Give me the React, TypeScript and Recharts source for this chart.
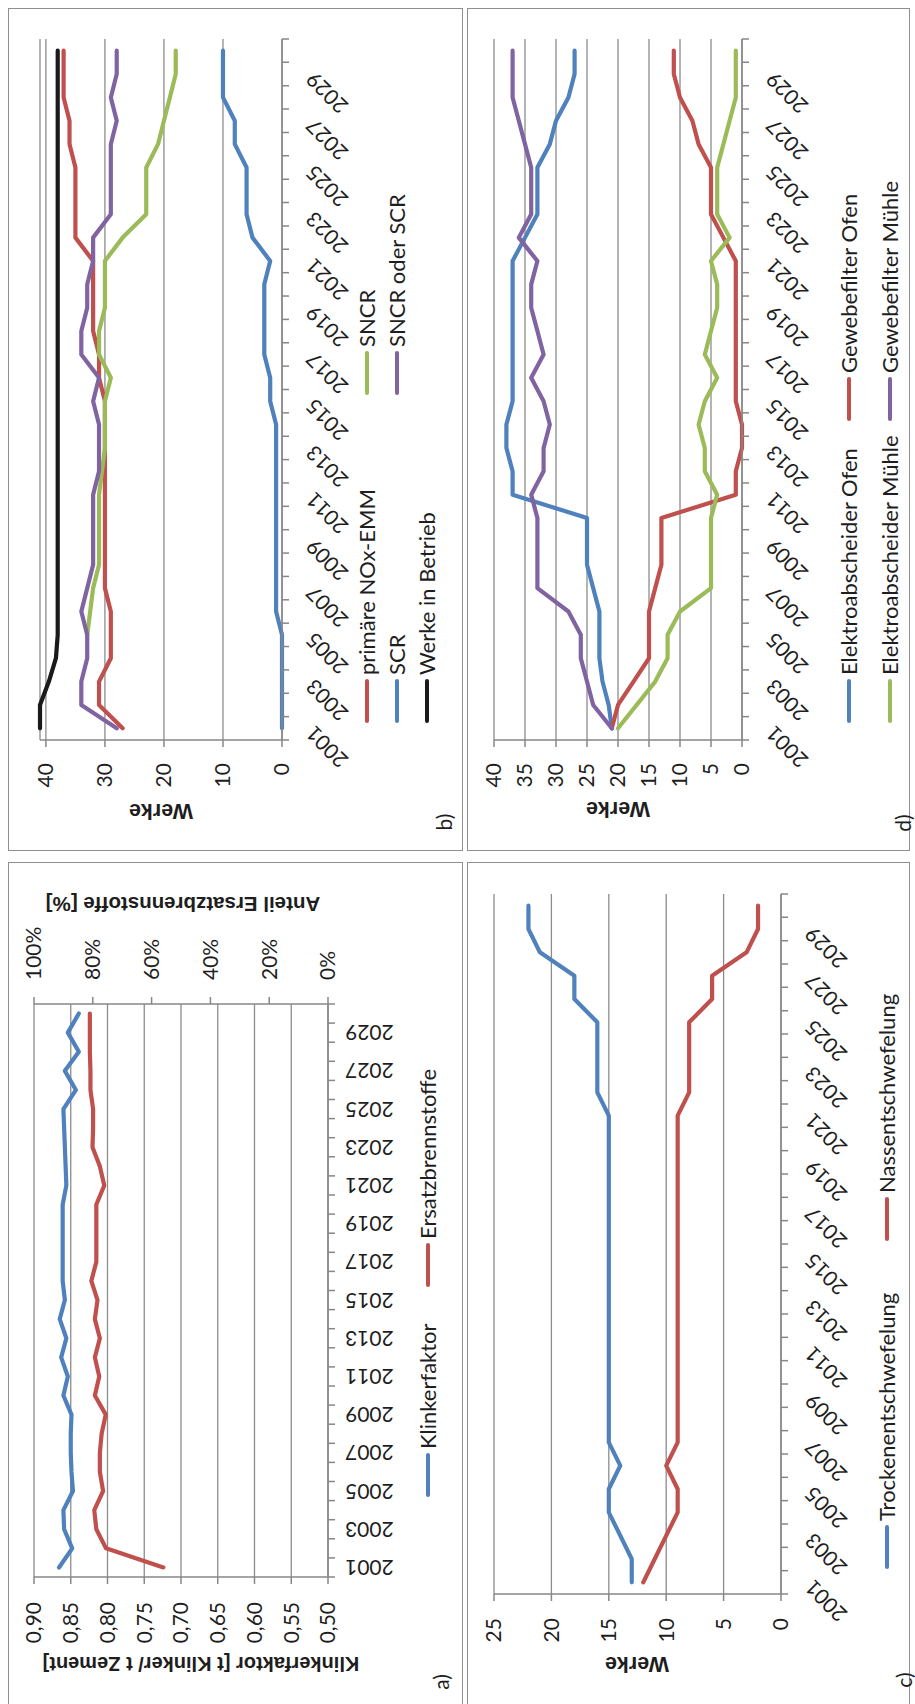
import React from "react";
import { LineChart, Line, XAxis, YAxis, CartesianGrid } from "recharts";

const years = [
  "2001", "2002", "2003", "2004", "2005", "2006", "2007", "2008", "2009", "2010",
  "2011", "2012", "2013", "2014", "2015", "2016", "2017", "2018", "2019", "2020",
  "2021", "2022", "2023", "2024", "2025", "2026", "2027", "2028", "2029", "2030",
];

// a) Klinkerfaktor and share of substitute fuels
const klinkerfaktor = [
  0.866, 0.848, 0.859, 0.86, 0.847, 0.849, 0.85, 0.85, 0.849, 0.86,
  0.854, 0.863, 0.856, 0.865, 0.858, 0.861, 0.861, 0.861, 0.861, 0.861,
  0.856, 0.857, 0.858, 0.859, 0.86, 0.843, 0.858, 0.839, 0.854, 0.839,
];
const ersatzbrennstoffe = [
  56, 75.5, 78.8, 79.5, 76.5, 77.6, 77.6, 77, 75.6, 79.3,
  77.8, 79.3, 77.6, 79.3, 78.4, 80.5, 78.8, 78.8, 78.8, 78.8,
  76.1, 77.6, 80.1, 79.9, 79.9, 80.8, 80.8, 81, 81, 81,
];

// b) NOx reduction
const primaereNOx = [27, 31, 31, 29, 29, 29, 30, 30, 30, 30, 30, 30, 30, 30, 30, 31, 31, 32, 32, 32, 32, 35, 35, 35, 35, 36, 36, 37, 37, 37];
const scr = [0, 0, 0, 0, 0, 1, 1, 1, 1, 1, 1, 1, 1, 1, 2, 2, 3, 3, 3, 3, 2, 5, 6, 6, 6, 8, 8, 10, 10, 10];
const werkeInBetrieb = [41, 41, 39.5, 38.3, 38, 38, 38, 38, 38, 38, 38, 38, 38, 38, 38, 38, 38, 38, 38, 38, 38, 38, 38, 38, 38, 38, 38, 38, 38, 38];
const sncr = [null, null, null, null, 33, 32.5, 32, 31, 31, 31, 31, 30.5, 30, 30, 30, 29, 31, 31, 30, 30, 30, 27, 23, 23, 23, 21, 20, 19, 18, 18];
const sncrOderScr = [28, 34, 34, 33, 33, 34, 33, 32, 32, 32, 32, 31, 31, 31, 32, 31, 34, 34, 33, 33, 32, 32, 29, 29, 29, 29, 28, 29, 28, 28];

// c) desulphurisation
const trocken = [13, 13, 14, 15, 15, 14, 15, 15, 15, 15, 15, 15, 15, 15, 15, 15, 15, 15, 15, 15, 15, 16, 16, 16, 16, 18, 18, 21, 22, 22];
const nass = [12, 11, 10, 9, 9, 10, 9, 9, 9, 9, 9, 9, 9, 9, 9, 9, 9, 9, 9, 9, 9, 8, 8, 8, 8, 6, 6, 3, 2, 2];

// d) dust filters
const elektroOfen = [21, 21.5, 22.5, 23, 23, 23, 24, 25, 25, 25, 37, 37, 38, 38, 37, 37, 37, 37, 37, 37, 37, 35, 33, 33, 33, 31, 30, 28, 27, 27];
const gewebeOfen = [21, 20, 17.5, 15, 15, 15, 14, 13, 13, 13, 1, 1, 0, 0, 1, 1, 1, 1, 1, 1, 1, 3, 5, 5, 5, 7, 8, 10, 11, 11];
const elektroMuehle = [20, 17, 14, 12, 12, 10, 5, 5, 5, 5, 4, 6, 6, 7, 6, 4, 6, 5, 4, 4, 5, 2, 4, 4, 4, 3, 2, 1, 1, 1];
const gewebeMuehle = [21, 24, 25, 26, 26, 28, 33, 33, 33, 33, 34, 32, 32, 31, 32, 34, 32, 33, 34, 34, 33, 36, 34, 34, 34, 35, 36, 37, 37, 37];

const klinkerTicks = [0.5, 0.55, 0.6, 0.65, 0.7, 0.75, 0.8, 0.85, 0.9];
const percentTicks = [0, 20, 40, 60, 80, 100];
const werke40Ticks = [0, 10, 20, 30, 40];
const werke40FineTicks = [0, 5, 10, 15, 20, 25, 30, 35, 40];
const werke25Ticks = [0, 5, 10, 15, 20, 25];

const RED = "#C0504D";
const BLUE = "#4F81BD";
const GREEN = "#9BBB59";
const PURPLE = "#8064A2";
const BLACK = "#1a1a1a";
const GRID = "#8c8c8c";
const AXIS = "#878787";
const TEXT = "#1e1e1e";
const FONT = "Lato, 'Open Sans', sans-serif";
const BOLD_FONT = "'Liberation Sans', Arial, sans-serif";

const PAD_L = 100;
const PAD_T = 20;
const PAD_B = 110;
const AXIS_W = 76;
const XAXIS_H = 90;

type Series = { key: string; color: string; values: (number | null)[]; axis?: string };
type AxisDef = { domain: [number, number]; ticks: number[]; fmt?: (v: number) => string; margin: number };

const YearTick = (props: any) => {
  const { x, index, payload, axisY, band, vertical } = props;
  const tx = vertical ? x + 7.5 : x + 4;
  const ty = vertical ? axisY + 17 : axisY + 33;
  return (
    <g>
      <line x1={x - band / 2} x2={x - band / 2} y1={axisY} y2={axisY + 7} stroke={AXIS} strokeWidth={1.5} />
      {index === years.length - 1 && (
        <line x1={x + band / 2} x2={x + band / 2} y1={axisY} y2={axisY + 7} stroke={AXIS} strokeWidth={1.5} />
      )}
      {index % 2 === 0 && (
        <text
          x={tx}
          y={ty}
          textAnchor="end"
          transform={`rotate(${vertical ? -90 : -45} ${tx} ${ty})`}
          fontSize={21}
          fontFamily={FONT}
          fill={TEXT}
        >
          {payload.value}
        </text>
      )}
    </g>
  );
};

const YearChart = ({
  x0, y0, w, h, series, left, right, vertical = false,
}: {
  x0: number; y0: number; w: number; h: number; series: Series[];
  left: AxisDef; right?: AxisDef; vertical?: boolean;
}) => {
  const padR = right ? 100 : 20;
  const band = w / years.length;
  const axisY = PAD_T + h;
  const data = years.map((year, i) => {
    const row: Record<string, any> = { year };
    series.forEach((s) => (row[s.key] = s.values[i]));
    return row;
  });
  const tickStyle = { fontSize: 21, fill: TEXT, fontFamily: FONT };

  return (
    <div style={{ position: "absolute", left: x0 - PAD_L, top: y0 - PAD_T }}>
      <LineChart
        width={w + PAD_L + padR}
        height={h + PAD_T + PAD_B}
        data={data}
        margin={{ top: PAD_T, left: PAD_L - AXIS_W, right: padR - (right ? AXIS_W : 0), bottom: PAD_B - XAXIS_H }}
      >
        <CartesianGrid vertical={false} stroke={GRID} strokeWidth={1.3} yAxisId="left" />
        <XAxis
          dataKey="year"
          height={XAXIS_H}
          interval={0}
          tickSize={0}
          tickMargin={0}
          tickLine={false}
          axisLine={{ stroke: AXIS, strokeWidth: 1.5 }}
          padding={{ left: band / 2, right: band / 2 }}
          tick={(p: any) => <YearTick {...p} axisY={axisY} band={band} vertical={vertical} />}
        />
        <YAxis
          yAxisId="left"
          width={AXIS_W}
          type="number"
          domain={left.domain}
          ticks={left.ticks}
          interval={0}
          tickFormatter={left.fmt}
          tickSize={7}
          tickMargin={left.margin}
          tick={tickStyle}
          axisLine={{ stroke: AXIS, strokeWidth: 1.5 }}
          tickLine={{ stroke: AXIS, strokeWidth: 1.5 }}
        />
        {right && (
          <YAxis
            yAxisId="right"
            orientation="right"
            width={AXIS_W}
            type="number"
            domain={right.domain}
            ticks={right.ticks}
            interval={0}
            tickFormatter={right.fmt}
            tickSize={7}
            tickMargin={right.margin}
            tick={tickStyle}
            axisLine={{ stroke: AXIS, strokeWidth: 1.5 }}
            tickLine={{ stroke: AXIS, strokeWidth: 1.5 }}
          />
        )}
        {series.map((s) => (
          <Line
            key={s.key}
            yAxisId={s.axis ?? "left"}
            type="linear"
            dataKey={s.key}
            stroke={s.color}
            strokeWidth={4.2}
            strokeLinejoin="round"
            strokeLinecap="round"
            dot={false}
            activeDot={false}
            isAnimationActive={false}
          />
        ))}
      </LineChart>
    </div>
  );
};

const Frame = ({ x, y, w, h }: { x: number; y: number; w: number; h: number }) => (
  <div
    style={{
      position: "absolute", left: x, top: y, width: w, height: h,
      border: "1.5px solid #8f8f8f", boxSizing: "border-box",
    }}
  />
);

const Title = ({ cx, cy, text, size = 21.5 }: { cx: number; cy: number; text: string; size?: number }) => (
  <div
    style={{
      position: "absolute", left: cx, top: cy, transform: "translate(-50%, -50%) rotate(-90deg)",
      whiteSpace: "nowrap", fontFamily: BOLD_FONT, fontWeight: "bold", fontSize: size, color: TEXT,
    }}
  >
    {text}
  </div>
);

const Letter = ({ cx, cy, text }: { cx: number; cy: number; text: string }) => (
  <div
    style={{
      position: "absolute", left: cx, top: cy, transform: "translate(-50%, -50%)",
      fontFamily: FONT, fontSize: 21, color: TEXT,
    }}
  >
    {text}
  </div>
);

const LegendItem = ({ x, y, color, label }: { x: number; y: number; color: string; label: string }) => (
  <div
    style={{
      position: "absolute", left: x, top: y - 15, height: 30, display: "flex",
      alignItems: "center", whiteSpace: "nowrap",
    }}
  >
    <div style={{ width: 44, height: 4.5, borderRadius: 3, background: color, marginRight: 4 }} />
    <span style={{ fontFamily: FONT, fontSize: 22, color: TEXT, lineHeight: "30px" }}>{label}</span>
  </div>
);

const comma2 = (v: number) => v.toFixed(2).replace(".", ",");
const pct = (v: number) => `${v}%`;

export default function App() {
  return (
    <div
      style={{
        position: "absolute", left: 0, top: 0, width: 915, height: 1704,
        overflow: "hidden", background: "#fff",
      }}
    >
      <div
        style={{
          position: "absolute", left: 0, top: 0, width: 1704, height: 915,
          transformOrigin: "0 0", transform: "translate(0px, 1704px) rotate(-90deg)",
          background: "#fff",
        }}
      >
        <Frame x={-5} y={8} w={847} h={455} />
        <Frame x={853} y={8} w={843} h={455} />
        <Frame x={-5} y={467} w={847} h={443} />
        <Frame x={853} y={467} w={843} h={443} />

        {/* a) */}
        <YearChart
          x0={127}
          y0={34}
          w={573}
          h={294}
          vertical
          left={{ domain: [0.5, 0.9], ticks: klinkerTicks, fmt: comma2, margin: 18 }}
          right={{ domain: [0, 100], ticks: percentTicks, fmt: pct, margin: 17 }}
          series={[
            { key: "klinker", color: BLUE, values: klinkerfaktor },
            { key: "ersatz", color: RED, values: ersatzbrennstoffe, axis: "right" },
          ]}
        />
        <Title cx={41} cy={201} text="Klinkerfaktor [t Klinker/ t Zement]" size={20} />
        <Title cx={800} cy={183} text="Anteil Ersatzbrennstoffe [%]" size={20.5} />
        <LegendItem x={207} y={428} color={BLUE} label="Klinkerfaktor" />
        <LegendItem x={417} y={428} color={RED} label="Ersatzbrennstoffe" />
        <Letter cx={22} cy={440} text="a)" />

        {/* b) */}
        <YearChart
          x0={964}
          y0={40}
          w={701}
          h={242}
          left={{ domain: [0, 40], ticks: werke40Ticks, margin: 16 }}
          series={[
            { key: "werke", color: BLACK, values: werkeInBetrieb },
            { key: "primaer", color: RED, values: primaereNOx },
            { key: "sncr", color: GREEN, values: sncr },
            { key: "sncrScr", color: PURPLE, values: sncrOderScr },
            { key: "scr", color: BLUE, values: scr },
          ]}
        />
        <Title cx={894} cy={161} text="Werke" />
        <LegendItem x={981} y={367} color={RED} label="primäre NOx-EMM" />
        <LegendItem x={1309} y={367} color={GREEN} label="SNCR" />
        <LegendItem x={981} y={397} color={BLUE} label="SCR" />
        <LegendItem x={1309} y={397} color={PURPLE} label="SNCR oder SCR" />
        <LegendItem x={981} y={427} color={BLACK} label="Werke in Betrieb" />
        <Letter cx={882} cy={443} text="b)" />

        {/* c) */}
        <YearChart
          x0={110}
          y0={494}
          w={700}
          h={287}
          left={{ domain: [0, 25], ticks: werke25Ticks, margin: 17 }}
          series={[
            { key: "trocken", color: BLUE, values: trocken },
            { key: "nass", color: RED, values: nass },
          ]}
        />
        <Title cx={41} cy={637} text="Werke" />
        <LegendItem x={135} y={887} color={BLUE} label="Trockenentschwefelung" />
        <LegendItem x={463} y={887} color={RED} label="Nassentschwefelung" />
        <Letter cx={24} cy={903} text="c)" />

        {/* d) */}
        <YearChart
          x0={964}
          y0={494}
          w={701}
          h={248}
          left={{ domain: [0, 40], ticks: werke40FineTicks, margin: 16 }}
          series={[
            { key: "eOfen", color: BLUE, values: elektroOfen },
            { key: "gOfen", color: RED, values: gewebeOfen },
            { key: "eMuehle", color: GREEN, values: elektroMuehle },
            { key: "gMuehle", color: PURPLE, values: gewebeMuehle },
          ]}
        />
        <Title cx={896} cy={618} text="Werke" />
        <LegendItem x={981} y={849} color={BLUE} label="Elektroabscheider Ofen" />
        <LegendItem x={1283} y={849} color={RED} label="Gewebefilter Ofen" />
        <LegendItem x={981} y={890} color={GREEN} label="Elektroabscheider Mühle" />
        <LegendItem x={1283} y={890} color={PURPLE} label="Gewebefilter Mühle" />
        <Letter cx={881} cy={902} text="d)" />
      </div>
    </div>
  );
}
